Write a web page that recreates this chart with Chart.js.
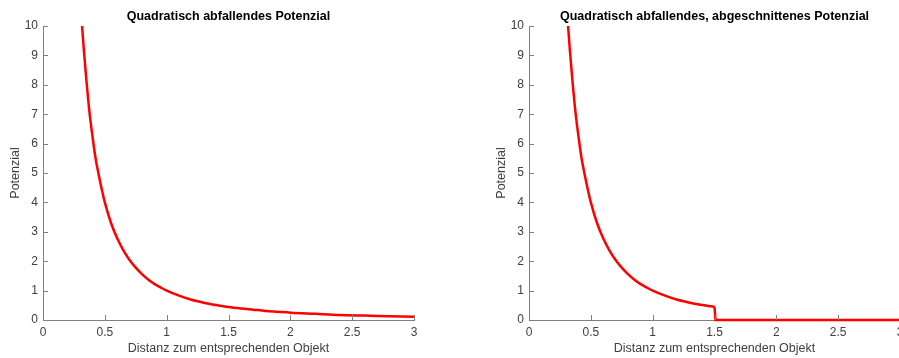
<!DOCTYPE html>
<html>
<head>
<meta charset="utf-8">
<script src="https://cdn.jsdelivr.net/npm/chart.js@4/dist/chart.umd.min.js"></script>
<style>
html, body { margin:0; padding:0; background:#fff; overflow:hidden; width:899px; height:358px; }
.box { position:absolute; top:0; width:440px; height:358px; }
</style>
</head>
<body>
<div class="box" style="left:0"><canvas id="leftChart" width="440" height="358"></canvas></div>
<div class="box" style="left:486px"><canvas id="rightChart" width="440" height="358"></canvas></div>
<script>
// values
const distances = [0.316,0.33,0.35,0.375,0.4,0.425,0.45,0.475,0.5,0.55,0.6,0.65,0.7,0.75,0.8,0.85,0.9,0.95,1.0,1.1,1.2,1.3,1.4,1.5,1.6,1.7,1.8,1.9,2.0,2.2,2.4,2.6,2.8,3.0];
const potential = [10,9.2,8.2,7.1,6.25,5.5,4.95,4.45,4.0,3.3,2.78,2.37,2.04,1.78,1.56,1.38,1.23,1.11,1.0,0.83,0.69,0.59,0.51,0.44,0.39,0.35,0.31,0.28,0.25,0.21,0.17,0.15,0.13,0.11];

const cutDistances = [0.316,0.33,0.35,0.375,0.4,0.425,0.45,0.475,0.5,0.55,0.6,0.65,0.7,0.75,0.8,0.85,0.9,0.95,1.0,1.1,1.2,1.3,1.4,1.5];
const cutPotential = [10,9.2,8.2,7.1,6.25,5.5,4.95,4.45,4.0,3.3,2.78,2.37,2.04,1.78,1.56,1.38,1.23,1.11,1.0,0.83,0.69,0.59,0.51,0.45];
const tailDistances = [1.5,1.508,3.0];
const tailPotential = [0.45,0,0];

const xTicks = [0,0.5,1,1.5,2,2.5,3];
const yTicks = [0,1,2,3,4,5,6,7,8,9,10];

const axisGrey = "#808080";
const labelGrey = "#404040";
const fontFam = "'Liberation Sans', Arial, sans-serif";

const toPoints = (xs, ys) => xs.map((x, i) => ({x: x, y: ys[i]}));

// MATLAB style ticks pointing into the plot
const innerTicks = {
  id: "innerTicks",
  afterDraw(chart) {
    const ctx = chart.ctx, a = chart.chartArea;
    const xs = chart.scales.x, ys = chart.scales.y;
    ctx.save();
    ctx.strokeStyle = axisGrey;
    ctx.lineWidth = 1;
    ctx.beginPath();
    xs.ticks.forEach((t, i) => {
      const p = Math.round(xs.getPixelForTick(i)) + 0.5;
      ctx.moveTo(p, a.bottom);
      ctx.lineTo(p, a.bottom - 5);
    });
    ys.ticks.forEach((t, i) => {
      const p = Math.round(ys.getPixelForTick(i)) + 0.5;
      ctx.moveTo(a.left, p);
      ctx.lineTo(a.left + 5, p);
    });
    ctx.stroke();
    ctx.restore();
  }
};

function makeChart(id, title, datasets) {
  return new Chart(document.getElementById(id), {
    type: "line",
    data: { datasets: datasets },
    options: {
      responsive: false,
      animation: false,
      layout: { padding: { left: 0, right: 26, top: 0, bottom: 0 } },
      plugins: {
        legend: { display: false },
        tooltip: { enabled: false },
        title: {
          display: true,
          text: title,
          fullSize: false,
          color: "#000",
          font: { family: fontFam, size: 12.5, weight: "bold" },
          padding: { top: 9, bottom: 2 }
        }
      },
      elements: { point: { radius: 0 } },
      scales: {
        x: {
          type: "linear",
          min: 0, max: 3,
          afterBuildTicks: s => { s.ticks = xTicks.map(v => ({value: v})); },
          afterFit: s => { s.height = 38; },
          grid: { drawOnChartArea: false, drawTicks: false },
          border: { color: axisGrey },
          ticks: { color: labelGrey, padding: 5, maxRotation: 0, font: { family: fontFam, size: 12 },
                   callback: v => String(v) },
          title: {
            display: true,
            text: "Distanz zum entsprechenden Objekt",
            color: labelGrey,
            font: { family: fontFam, size: 12.5 },
            padding: { top: 2, bottom: 2 }
          }
        },
        y: {
          type: "linear",
          min: 0, max: 10,
          afterBuildTicks: s => { s.ticks = yTicks.map(v => ({value: v})); },
          afterFit: s => { s.width = 43; },
          grid: { drawOnChartArea: false, drawTicks: false },
          border: { color: axisGrey },
          ticks: { color: labelGrey, padding: 5, font: { family: fontFam, size: 12 },
                   callback: v => String(v) },
          title: {
            display: true,
            text: "Potenzial",
            color: labelGrey,
            font: { family: fontFam, size: 12.5 },
            padding: { top: 8, bottom: 0 }
          }
        }
      }
    },
    plugins: [innerTicks]
  });
}

const lineStyle = {
  borderColor: "#ff0000",
  borderWidth: 2.5,
  fill: false,
  pointRadius: 0,
  clip: 4
};

makeChart("leftChart", "Quadratisch abfallendes Potenzial", [
  Object.assign({ data: toPoints(distances, potential), cubicInterpolationMode: "monotone" }, lineStyle)
]);

makeChart("rightChart", "Quadratisch abfallendes, abgeschnittenes Potenzial", [
  Object.assign({ data: toPoints(cutDistances, cutPotential), cubicInterpolationMode: "monotone" }, lineStyle),
  Object.assign({ data: toPoints(tailDistances, tailPotential), tension: 0 }, lineStyle)
]);
</script>
</body>
</html>
